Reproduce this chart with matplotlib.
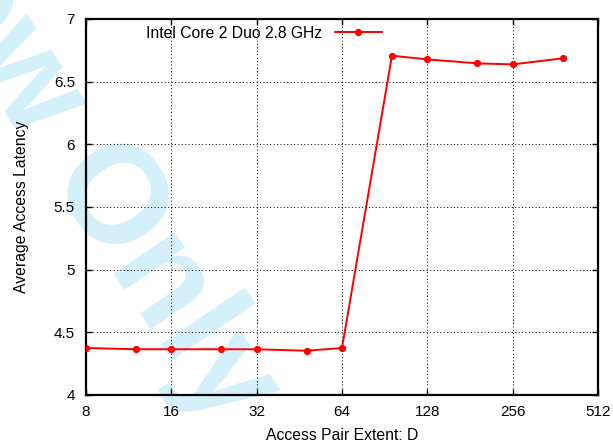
"""Average access latency versus access pair extent (log2 x axis)."""

import matplotlib

matplotlib.use("Agg")
import matplotlib.pyplot as plt
from matplotlib.ticker import FixedLocator, FuncFormatter, NullLocator

plt.rcParams["font.family"] = ["Liberation Sans", "DejaVu Sans"]

# measured points
extent = [8, 12, 16, 24, 32, 48, 64, 96, 128, 192, 256, 384]
latency = [4.375, 4.365, 4.365, 4.365, 4.365, 4.353, 4.375,
           6.707, 6.678, 6.646, 6.638, 6.686]
series_label = "Intel Core 2 Duo 2.8 GHz"

x_ticks = [8, 16, 32, 64, 128, 256, 512]
y_ticks = [4, 4.5, 5, 5.5, 6, 6.5, 7]

W, H = 613, 443
fig = plt.figure(figsize=(W / 100, H / 100), dpi=100)
ax = fig.add_axes([86 / W, 1 - 395 / H, 512 / W, 376 / H])
ax.set_facecolor("none")

# review stamp sits under the plot
fig.text(220 / W, 1 - 432 / H, "For Review Only", color="#d3f0fb",
         fontsize=100, fontweight="bold", rotation=-56, rotation_mode="anchor",
         ha="right", va="baseline", zorder=-10)

ax.plot(extent, latency, color="red", lw=1.4, marker="o", ms=4.2,
        label=series_label, zorder=3)

ax.set_xscale("log", base=2)
ax.set_xlim(8, 512)
ax.set_ylim(4, 7)
ax.xaxis.set_major_locator(FixedLocator(x_ticks))
ax.xaxis.set_minor_locator(NullLocator())
ax.xaxis.set_major_formatter(FuncFormatter(lambda v, _: f"{v:g}"))
ax.yaxis.set_major_locator(FixedLocator(y_ticks))
ax.yaxis.set_major_formatter(FuncFormatter(lambda v, _: f"{v:g}"))

ax.grid(True, color="black", lw=0.7, linestyle=(0, (1, 2.5)))
ax.tick_params(direction="in", length=4.5, width=1.0, labelsize=11,
               top=True, right=True, pad=7)
ax.tick_params(axis="y", pad=8)
for s in ax.spines.values():
    s.set_linewidth(1.6)

ax.set_xlabel("Access Pair Extent: D", fontsize=11.3, labelpad=7)
ax.set_ylabel("Average Access Latency", fontsize=11.3, labelpad=18)

ax.legend(loc="center right", bbox_to_anchor=(382 / W, 1 - 33 / H),
          bbox_transform=fig.transFigure, frameon=False, markerfirst=False,
          fontsize=11.3, handlelength=3.0, handletextpad=0.8, borderpad=0,
          borderaxespad=0)

fig.savefig("out.png", dpi=100)
